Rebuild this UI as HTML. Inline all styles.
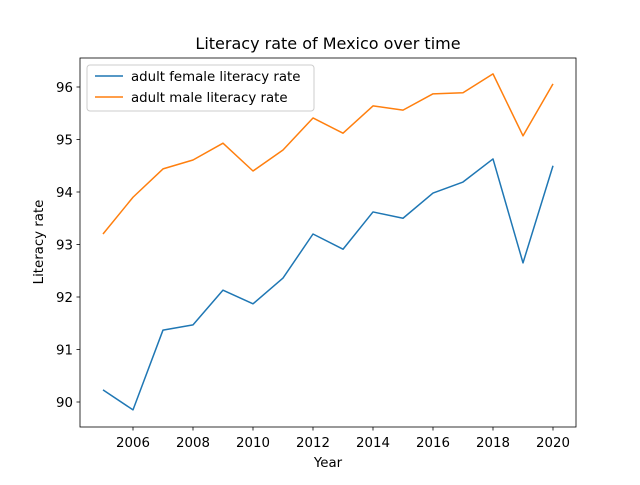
<!DOCTYPE html>
<html><head><meta charset="utf-8"><style>body{margin:0;background:#fff}svg{font-family:"DejaVu Sans","Liberation Sans",sans-serif}</style></head>
<body>
<svg id="chart" width="640" height="480" viewBox="0 0 640 480">
<rect width="640" height="480" fill="#fff"/>
<text x="328" y="49" text-anchor="middle" font-size="16">Literacy rate of Mexico over time</text>
<g id="grid"></g>
<rect x="80" y="58" width="496" height="369" fill="none" stroke="#000" stroke-width="0.8"/>
<text x="328" y="467" text-anchor="middle" font-size="13.33">Year</text>
<text transform="translate(43,242) rotate(-90)" text-anchor="middle" font-size="13.33">Literacy rate</text>
<g>
<rect x="87" y="65" width="227" height="46" rx="3" fill="#fff" fill-opacity="0.8" stroke="#ccc"/>
<line x1="95" y1="76" x2="123" y2="76" stroke="#1f77b4" stroke-width="1.5"/>
<text x="131" y="81" font-size="13.33">adult female literacy rate</text>
<line x1="95" y1="97" x2="123" y2="97" stroke="#ff7f0e" stroke-width="1.5"/>
<text x="131" y="102" font-size="13.33">adult male literacy rate</text>
</g>
</svg>
<script>
const years=[2005,2006,2007,2008,2009,2010,2011,2012,2013,2014,2015,2016,2017,2018,2019,2020];
const female=[90.23,89.85,91.37,91.47,92.13,91.87,92.36,93.2,92.91,93.62,93.5,93.98,94.19,94.63,92.65,94.5];
const male=[93.2,93.9,94.44,94.61,94.93,94.4,94.8,95.41,95.12,95.64,95.56,95.87,95.89,96.25,95.07,96.06];
const xTicks=[2006,2008,2010,2012,2014,2016,2018,2020];
const yTicks=[90,91,92,93,94,95,96];
const NS="http://www.w3.org/2000/svg";
const svg=document.getElementById('chart');
const g=document.getElementById('grid');
const x=v=>103+(v-2005)*30;
const y=v=>402-(v-90)*52.5;
function mk(t,a,p){const e=document.createElementNS(NS,t);for(const k in a)e.setAttribute(k,a[k]);(p||svg).appendChild(e);return e;}
xTicks.forEach(t=>{
const l=mk('line',{x1:x(t),x2:x(t),y1:427,y2:430.5,stroke:'#000','stroke-width':0.8},g);


const tx=mk('text',{x:x(t),y:447,'text-anchor':'middle','font-size':13.33},g);tx.textContent=t;


});
yTicks.forEach(t=>{
const l=mk('line',{x1:76.5,x2:80,y1:y(t),y2:y(t),stroke:'#000','stroke-width':0.8},g);


const tx=mk('text',{x:73,y:y(t)+5,'text-anchor':'end','font-size':13.33},g);tx.textContent=t;


});
function line(vals,color,name){
const p=mk('polyline',{points:vals.map((v,i)=>x(years[i])+','+y(v)).join(' '),fill:'none',stroke:color,'stroke-width':1.5,'stroke-linejoin':'round'});


}
line(female,'#1f77b4','female-line');
line(male,'#ff7f0e','male-line');
</script>
</body></html>
